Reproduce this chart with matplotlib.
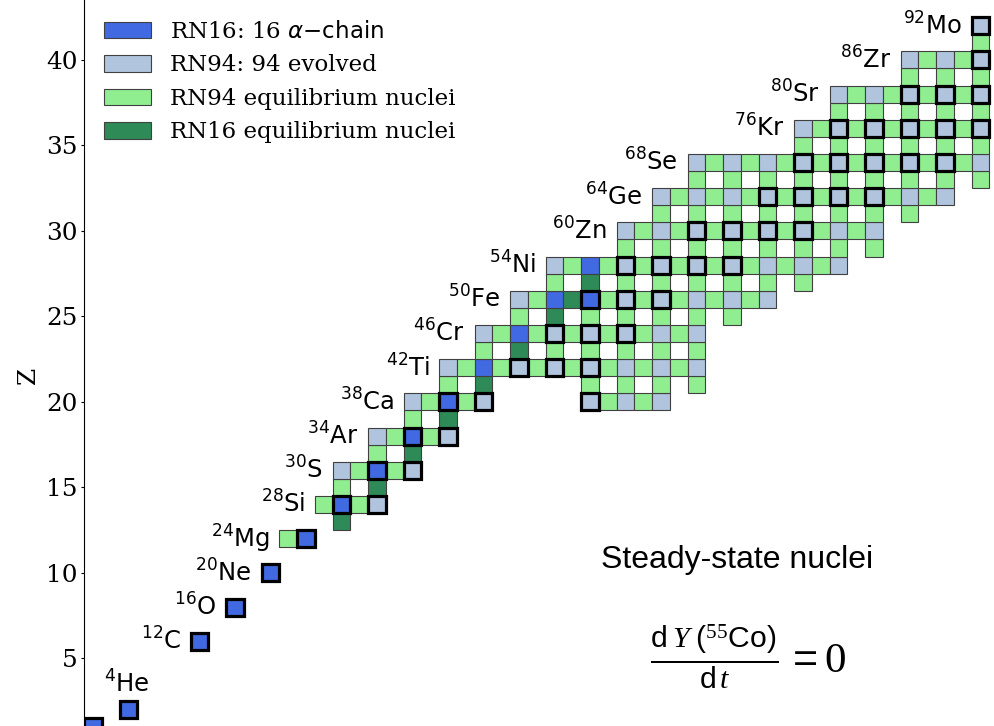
import matplotlib
matplotlib.use("Agg")
import matplotlib.pyplot as plt
from matplotlib.patches import Rectangle, Patch

# one entry per proton number Z: first neutron number N and one code per N
# b = RN16 alpha-chain, e = RN94 evolved, g = RN94 equilibrium,
# d = RN16 equilibrium, . = not in network; upper case = outlined nucleus
row_z = [1, 2, 6, 8, 10, 12, 13, 14, 15, 16, 17, 18, 19, 20, 21, 22, 23, 24,
         25, 26, 27, 28, 29, 30, 31, 32, 33, 34, 35, 36, 37, 38, 39, 40, 41, 42]
row_n0 = [0, 2, 6, 8, 10, 11, 14, 13, 14, 14, 16, 16, 18, 18, 20, 20, 22, 22,
          24, 24, 26, 26, 30, 30, 32, 32, 34, 34, 40, 40, 42, 42, 46, 46, 50, 50]
row_cells = [
    "B", "B", "B", "B", "B",
    "gB",
    "d",
    "gBgE",
    "g.d",
    "egBgE",
    "g.d",
    "egBgE",
    "g.d",
    "egBgE.....Egege",
    "g.d.....g.g.g.g",
    "egbgEgEgEgegege",
    "g.d.g.g.g.g.g",
    "egbgEgEgEgege",
    "g.d.g.g.g.g.g",
    "egbdBgEgEgegege",
    "g.d.g.g.g.g.g.g",
    "egbgEgEgEgEgegege",
    "g.g.g.g.g.g.g.g",
    "egegEgEgEgEgege",
    "g.g.g.g.g.g.g.g",
    "egegegEgEgEgEgege",
    "g.g.g.g.g.g.g.g.g",
    "egegegEgEgEgEgEge",
    "g.g.g.g.g.g",
    "egEgEgEgEgE",
    "g.g.g.g.g",
    "egegEgEgE",
    "g.g.g",
    "egegE",
    "g",
    "E",
]

# labelled nuclei: Z, mass number, symbol
label_z = [2, 6, 8, 10, 12, 14, 16, 18, 20, 22, 24, 26, 28, 30, 32, 34, 36, 38, 40, 42]
label_a = [4, 12, 16, 20, 24, 28, 30, 34, 38, 42, 46, 50, 54, 60, 64, 68, 76, 80, 86, 92]
label_sym = ["He", "C", "O", "Ne", "Mg", "Si", "S", "Ar", "Ca", "Ti", "Cr", "Fe",
             "Ni", "Zn", "Ge", "Se", "Kr", "Sr", "Zr", "Mo"]

categories = {
    "b": ("RN16: 16 $\\alpha{-}\\mathrm{chain}$", "royalblue"),
    "e": ("RN94: 94 evolved", "lightsteelblue"),
    "g": ("RN94 equilibrium nuclei", "lightgreen"),
    "d": ("RN16 equilibrium nuclei", "seagreen"),
}

plt.rcParams["font.family"] = "serif"
plt.rcParams["mathtext.fontset"] = "dejavusans"
# fonts for the steady-state formula (math_fontfamily="custom")
plt.rcParams["mathtext.rm"] = "Liberation Sans"
plt.rcParams["mathtext.it"] = "Liberation Serif:italic"
plt.rcParams["mathtext.sf"] = "Liberation Serif"

fig = plt.figure(figsize=(9.95, 7.26), dpi=100)
ax = fig.add_axes([84 / 995, 0, 1 - 84 / 995, 1])

first_n = {}
for z, n0, cells in zip(row_z, row_n0, row_cells):
    for i, code in enumerate(cells):
        if code == ".":
            continue
        n = n0 + i
        first_n.setdefault(z, n)
        color = categories[code.lower()][1]
        ax.add_patch(Rectangle((n - 0.5, z - 0.5), 1, 1, facecolor=color,
                               edgecolor="0.25", linewidth=0.8, zorder=2))
        if code.isupper():
            ax.add_patch(Rectangle((n - 0.5, z - 0.5), 1, 1, facecolor="none",
                                   edgecolor="black", linewidth=2.3, zorder=3))

for z, a, sym in zip(label_z, label_a, label_sym):
    text = f"$^{{{a}}}$" + sym
    if sym == "He":
        ax.text(first_n[z] - 0.1, z + 1.0, text, ha="center", va="baseline",
                fontsize=17.5, family="DejaVu Sans", math_fontfamily="dejavusans")
    else:
        ax.text(first_n[z] - 1.05, z - 0.5, text, ha="right", va="baseline",
                fontsize=17.5, family="DejaVu Sans", math_fontfamily="dejavusans")

ax.text(36.3, 10.3, "Steady-state nuclei", ha="center", va="baseline",
        fontsize=23, family="Liberation Sans")
ax.text(36.93, 5.07,
        r"$\frac{\mathrm{d}\;Y\;(^{\mathsf{55}}\mathrm{Co})}{\mathrm{d}\,t}\, = \mathsf{0}$",
        ha="center", va="center", fontsize=31, math_fontfamily="custom")

ax.set_xlim(-0.5, 50.82)
ax.set_ylim(1.05, 43.5)
ax.set_yticks([5, 10, 15, 20, 25, 30, 35, 40])
ax.tick_params(axis="y", labelsize=17.8, length=2.5, pad=2)
ax.set_xticks([])
ax.set_ylabel("Z", fontsize=17.8)
ax.yaxis.set_label_coords(-0.048, 0.4826)
for side in ["top", "right", "bottom"]:
    ax.spines[side].set_visible(False)

handles = [Patch(facecolor=c, edgecolor="0.25", linewidth=0.8, label=l)
           for l, c in categories.values()]
leg = ax.legend(handles=handles, loc="upper left", frameon=False, fontsize=16.5,
                bbox_to_anchor=(104 / 995, 1 - 21 / 726), bbox_transform=fig.transFigure,
                borderpad=0, borderaxespad=0, handlelength=2.05, handleheight=0.73,
                handletextpad=0.85, labelspacing=0.5)
for t in leg.get_texts():
    t.set_math_fontfamily("dejavusans")

fig.savefig("out.png", dpi=100)
